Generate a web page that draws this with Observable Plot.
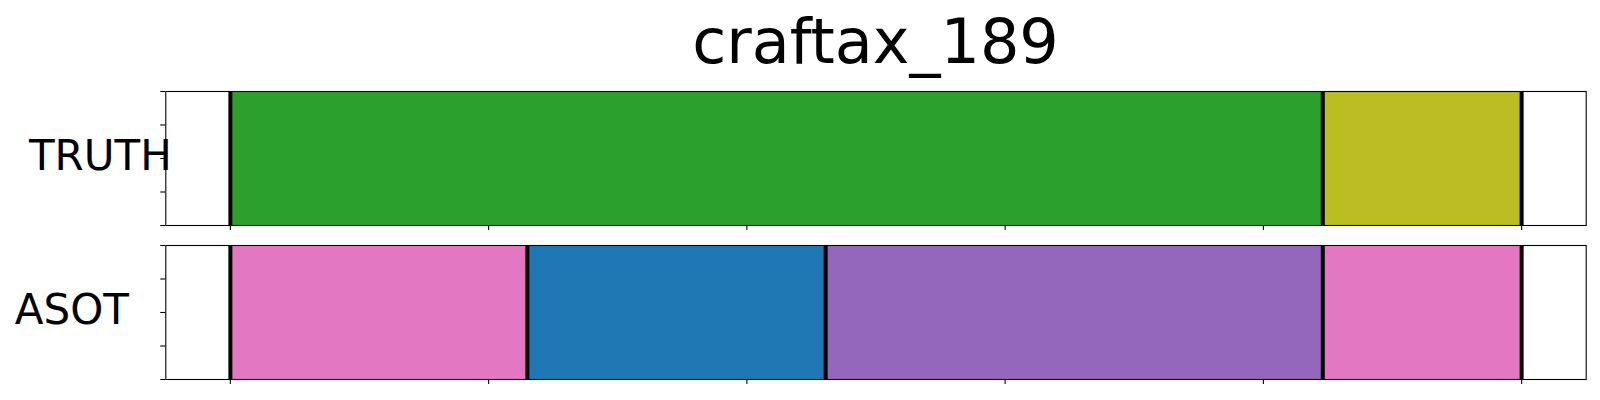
<!DOCTYPE html>
<html>
<head>
<meta charset="utf-8">
<script src="https://cdn.jsdelivr.net/npm/d3@7"></script>
<script src="https://cdn.jsdelivr.net/npm/@observablehq/plot@0.6"></script>
<style>
  html, body { margin: 0; padding: 0; background: #fff; }
  #chart { width: 1600px; height: 400px; }
  svg { font-family: "DejaVu Sans", sans-serif; }
</style>
</head>
<body>
<div id="chart"></div>
<script>
const title = "craftax_189";
const rows = ["TRUTH", "ASOT"];
const truthBounds = [0, 846, 1000];
const truthColors = ["#2ca02c", "#bcbd22"];
const asotBounds = [0, 230, 461, 846, 1000];
const asotColors = ["#e377c2", "#1f77b4", "#9467bd", "#e377c2"];
const xTicks = [0, 200, 400, 600, 800, 1000];
const yTicks = [0, 0.25, 0.5, 0.75, 1];

function segs(row, bounds, colors) {
  return colors.map((c, i) => ({row, x1: bounds[i], x2: bounds[i + 1], color: c}));
}
const segments = [...segs("TRUTH", truthBounds, truthColors), ...segs("ASOT", asotBounds, asotColors)];
const boundaries = [
  ...truthBounds.map(x => ({row: "TRUTH", x})),
  ...asotBounds.map(x => ({row: "ASOT", x}))
];

const plot = Plot.plot({
  width: 1600,
  height: 400,
  marginTop: 90.3,
  marginBottom: 19.7,
  marginLeft: 165.3,
  marginRight: 14.3,
  style: {fontFamily: "DejaVu Sans, sans-serif", background: "white"},
  x: {domain: [-50, 1050], axis: null},
  y: {domain: [0, 1], axis: null},
  fy: {domain: rows, paddingInner: 0.129, paddingOuter: 0, axis: null},
  color: {type: "identity"},
  marks: [
    Plot.rect(segments, {x1: "x1", x2: "x2", y1: 0, y2: 1, fy: "row", fill: "color", inset: 0}),
    Plot.ruleX(boundaries, {x: "x", fy: "row", stroke: "black", strokeWidth: 4}),
    Plot.frame({stroke: "black", strokeWidth: 1.1}),
    Plot.ruleY(yTicks, {y: d => d, x1: -50, x2: -53.9, stroke: "black", strokeWidth: 1.1, clip: false}),
    Plot.ruleX(xTicks, {x: d => d, y1: 0, y2: -0.037, stroke: "black", strokeWidth: 1.1, clip: false}),
    Plot.text([{row: "TRUTH"}], {fy: "row", text: "row", frameAnchor: "left", textAnchor: "middle", dx: -65.5, dy: -2, fontSize: 42, fill: "black"}),
    Plot.text([{row: "ASOT"}], {fy: "row", text: "row", frameAnchor: "left", textAnchor: "middle", dx: -94, dy: -2, fontSize: 42, fill: "black"})
  ]
});

d3.select(plot).append("text")
  .attr("x", 875.5)
  .attr("y", 63)
  .attr("text-anchor", "middle")
  .attr("font-size", 62)
  .attr("font-family", "DejaVu Sans, sans-serif")
  .attr("fill", "black")
  .text(title);

document.getElementById("chart").appendChild(plot);
</script>
</body>
</html>
